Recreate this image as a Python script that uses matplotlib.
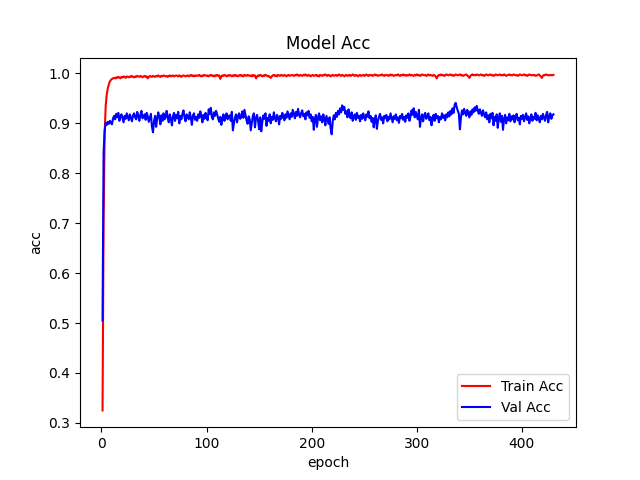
import matplotlib
matplotlib.use('Agg')
import matplotlib.pyplot as plt
import numpy as np

# accuracies, in thousandths
train_acc_milli = [
    325, 705, 880, 935, 958, 970, 978, 984, 987, 989,
    990, 991, 990, 992, 991, 993, 992, 990, 993, 992,
    994, 993, 991, 994, 993, 992, 994, 993, 995, 993,
    992, 994, 993, 995, 994, 993, 995, 994, 992, 994,
    995, 993, 994, 990, 993, 995, 994, 993, 995, 994,
    993, 995, 994, 996, 994, 993, 995, 994, 996, 995,
    994, 995, 993, 995, 996, 994, 995, 996, 994, 995,
    996, 995, 994, 996, 995, 993, 995, 996, 995, 994,
    995, 996, 994, 995, 997, 995, 996, 994, 996, 995,
    996, 995, 997, 995, 994, 996, 995, 997, 996, 995,
    996, 994, 996, 997, 995, 996, 994, 996, 995, 997,
    995, 996, 989, 994, 996, 995, 997, 996, 994, 996,
    995, 997, 996, 994, 996, 995, 997, 995, 996, 994,
    996, 997, 995, 996, 994, 997, 996, 995, 997, 996,
    995, 996, 994, 997, 995, 996, 990, 994, 996, 995,
    997, 996, 994, 996, 995, 997, 996, 994, 995, 993,
    991, 994, 996, 997, 995, 996, 994, 997, 996, 995,
    997, 996, 995, 997, 996, 994, 996, 997, 995, 996,
    997, 996, 995, 997, 996, 998, 996, 995, 997, 996,
    995, 997, 996, 998, 996, 995, 997, 996, 994, 996,
    997, 995, 996, 997, 995, 996, 994, 997, 996, 995,
    997, 996, 998, 996, 995, 997, 996, 994, 996, 997,
    995, 996, 997, 995, 996, 998, 996, 995, 997, 996,
    994, 996, 997, 995, 996, 997, 995, 996, 998, 996,
    995, 997, 996, 994, 996, 997, 995, 996, 997, 995,
    996, 998, 996, 995, 997, 996, 997, 995, 996, 998,
    996, 997, 995, 996, 997, 996, 998, 996, 995, 997,
    996, 997, 995, 996, 998, 996, 997, 995, 996, 997,
    996, 998, 996, 995, 997, 996, 998, 996, 997, 995,
    997, 996, 998, 996, 997, 996, 995, 997, 996, 998,
    996, 997, 995, 996, 998, 997, 996, 997, 995, 996,
    998, 996, 997, 996, 995, 997, 996, 994, 990, 995,
    997, 996, 998, 996, 997, 995, 996, 998, 997, 996,
    997, 998, 996, 997, 995, 996, 998, 997, 996, 997,
    998, 996, 997, 995, 996, 997, 998, 996, 994, 991,
    995, 997, 998, 996, 997, 996, 998, 997, 996, 997,
    998, 996, 997, 995, 996, 998, 997, 996, 997, 998,
    996, 997, 995, 996, 998, 997, 996, 997, 998, 996,
    997, 996, 998, 997, 995, 996, 997, 998, 996, 997,
    996, 998, 997, 996, 997, 995, 996, 998, 997, 996,
    997, 998, 996, 997, 995, 996, 998, 997, 996, 997,
    996, 997, 995, 996, 997, 998, 996, 994, 991, 995,
    997, 996, 998, 997, 996, 997, 996, 997, 996, 997,
]

val_acc_milli = [
    505, 842, 885, 901, 897, 903, 899, 905, 901, 898,
    910, 915, 908, 919, 912, 921, 905, 914, 918, 910,
    902, 915, 909, 920, 913, 906, 918, 911, 904, 916,
    920, 912, 908, 923, 915, 905, 917, 925, 910, 913,
    918, 907, 921, 914, 903, 911, 919, 893, 882, 905,
    915, 893, 910, 922, 912, 898, 916, 905, 920, 908,
    913, 925, 911, 902, 918, 909, 896, 914, 921, 905,
    917, 910, 923, 900, 915, 908, 919, 926, 912, 904,
    918, 914, 908, 922, 911, 897, 916, 920, 907, 913,
    905, 918, 911, 924, 915, 902, 917, 909, 921, 913,
    906, 928, 919, 931, 912, 908, 922, 915, 925, 918,
    910, 903, 913, 897, 909, 918, 905, 912, 920, 908,
    914, 916, 905, 923, 886, 900, 912, 918, 902, 915,
    920, 909, 913, 924, 911, 927, 917, 906, 899, 914,
    908, 886, 901, 915, 920, 892, 910, 917, 905, 888,
    912, 884, 903, 916, 909, 920, 895, 911, 905, 918,
    900, 913, 907, 922, 910, 904, 917, 912, 898, 915,
    909, 921, 914, 906, 918, 911, 924, 916, 908, 920,
    913, 927, 919, 910, 923, 915, 929, 917, 912, 921,
    926, 914, 919, 908, 922, 916, 925, 911, 918, 904,
    913, 887, 909, 917, 893, 911, 920, 906, 914, 902,
    918, 909, 896, 915, 907, 899, 912, 890, 878, 904,
    916, 908, 921, 913, 925, 918, 930, 922, 936, 927,
    933, 919, 924, 912, 928, 916, 910, 922, 905, 913,
    918, 907, 921, 911, 915, 904, 917, 909, 920, 912,
    906, 918, 913, 924, 910, 915, 903, 911, 892, 908,
    916, 889, 905, 913, 919, 907, 912, 900, 915, 910,
    917, 904, 913, 908, 920, 911, 902, 914, 909, 918,
    906, 912, 901, 915, 910, 919, 907, 913, 903, 916,
    911, 920, 905, 914, 926, 917, 930, 912, 923, 915,
    908, 927, 893, 910, 918, 904, 916, 921, 909, 914,
    920, 906, 913, 896, 911, 917, 905, 919, 910, 915,
    902, 913, 908, 920, 911, 916, 906, 918, 912, 922,
    914, 925, 918, 930, 921, 937, 941, 932, 925, 919,
    888, 912, 926, 918, 929, 921, 915, 927, 920, 912,
    924, 917, 928, 922, 932, 925, 935, 926, 919, 928,
    921, 915, 926, 918, 912, 922, 908, 916, 902, 919,
    910, 921, 896, 913, 905, 918, 891, 911, 920, 903,
    915, 887, 909, 917, 900, 912, 906, 919, 904, 914,
    908, 916, 902, 913, 919, 906, 911, 898, 915, 909,
    917, 904, 912, 920, 907, 914, 900, 911, 918, 905,
    913, 909, 921, 906, 916, 910, 902, 915, 908, 919,
    911, 905, 917, 923, 902, 914, 920, 909, 916, 918,
]

train_acc = np.array(train_acc_milli) / 1000
val_acc = np.array(val_acc_milli) / 1000
epochs = np.arange(1, len(train_acc) + 1)

plt.figure(figsize=(6.4, 4.8), dpi=100)
plt.plot(epochs, train_acc, color='red', label='Train Acc')
plt.plot(epochs, val_acc, color='blue', label='Val Acc')
plt.title('Model Acc')
plt.xlabel('epoch')
plt.ylabel('acc')
plt.legend(loc='lower right')
plt.savefig('out.png')
